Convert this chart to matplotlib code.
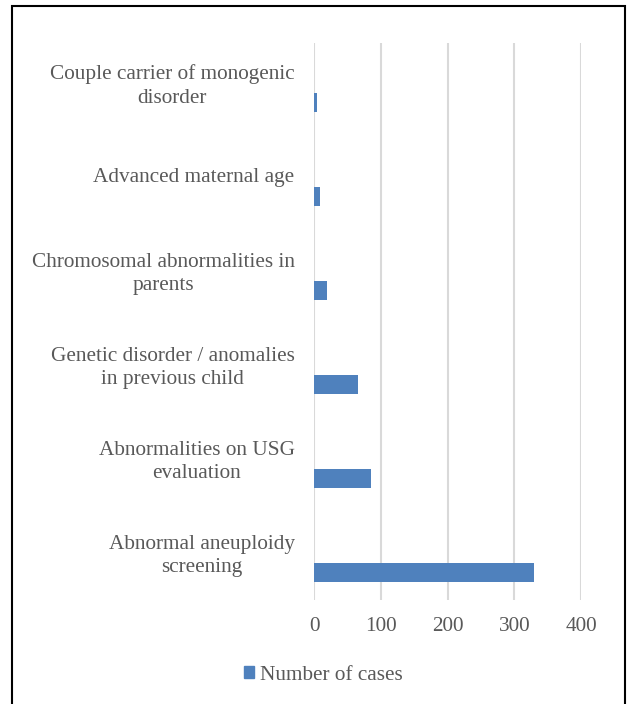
import matplotlib.pyplot as plt
from matplotlib.patches import Rectangle, Patch

# data, bottom to top as drawn
categories = ["Abnormal aneuploidy\nscreening",
              "Abnormalities on USG\nevaluation",
              "Genetic disorder / anomalies\nin previous child",
              "Chromosomal abnormalities in\nparents",
              "Advanced maternal age",
              "Couple carrier of monogenic\ndisorder"]
cases = [330, 86, 66, 19, 9, 5]
xticks = [0, 100, 200, 300, 400]
series_name = "Number of cases"

blue = "#4F81BD"
grey = "#595959"
plt.rcParams['font.family'] = ['Liberation Serif', 'DejaVu Serif']

fig = plt.figure(figsize=(6.27, 7.04), dpi=100)
ax = fig.add_axes([314/627, 1-600/704, (581-314)/627, (600-43)/704])

pos = list(range(len(categories)))
ax.barh(pos, cases, height=0.2, color=blue, zorder=3)

ax.set_xlim(0, 400)
ax.set_ylim(-0.293, 5.633)
ax.set_xticks(xticks)
ax.set_yticks([p + 0.225 for p in pos])
ax.set_yticklabels(categories, multialignment='center', linespacing=1.3)
ax.tick_params(axis='y', length=0, pad=14, labelsize=15.3, labelcolor=grey)
ax.tick_params(axis='x', length=0, pad=12, labelsize=15.3, labelcolor=grey)
ax.xaxis.grid(True, color="#D9D9D9", linewidth=1.5, zorder=0)
for s in ax.spines.values():
    s.set_visible(False)

fig.legend(handles=[Patch(color=blue, label=series_name)],
           loc='center', bbox_to_anchor=(323/627, 1-675/704), frameon=False,
           fontsize=15.3, labelcolor=grey, handlelength=0.5, handleheight=0.5,
           handletextpad=0.25)

# outer frame like the pasted chart
fig.patches.append(Rectangle((12/627, -0.02), (625-12)/627, 1.02-6/704,
                             transform=fig.transFigure, fill=False,
                             edgecolor='black', linewidth=1.5))

fig.savefig("out.png", dpi=100)
